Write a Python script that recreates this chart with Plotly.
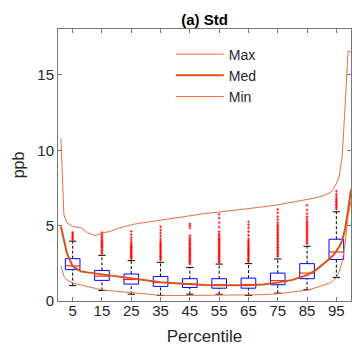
import plotly.graph_objects as go

# ---- Data ----
curve_x = [1, 2, 3, 5, 8, 10, 12, 13, 15, 18, 21, 26, 30, 35, 40, 45, 50, 55, 60, 65, 70, 75, 80,
           85, 88, 90, 92, 93, 94, 95, 96, 97, 98, 99, 100]
max_vals = [10.8, 5.75, 5.2, 4.95, 4.85, 4.55, 4.38, 4.35, 4.5, 4.63, 4.85, 5.1, 5.22, 5.37, 5.5,
            5.67, 5.8, 5.9, 6.0, 6.1, 6.25, 6.38, 6.55, 6.75, 6.85, 6.95, 7.1, 7.2, 7.45, 7.8,
            8.3, 9.6, 13.0, 16.6, 16.5]
med_vals = [4.95, 4.0, 3.2, 2.3, 1.95, 1.9, 1.85, 1.82, 1.78, 1.68, 1.6, 1.5, 1.38, 1.24, 1.18,
            1.1, 1.06, 1.04, 1.03, 1.04, 1.1, 1.22, 1.4, 1.72, 2.05, 2.35, 2.65, 2.85, 3.05, 3.3,
            3.6, 4.0, 4.8, 6.0, 7.4]
min_vals = [2.35, 1.65, 1.4, 1.2, 1.05, 0.95, 0.85, 0.8, 0.74, 0.68, 0.62, 0.52, 0.45, 0.38, 0.36,
            0.37, 0.37, 0.37, 0.37, 0.38, 0.42, 0.48, 0.58, 0.72, 0.88, 1.02, 1.15, 1.22, 1.35, 1.55,
            1.95, 2.6, 3.8, 5.6, 6.6]

percentiles = [5, 15, 25, 35, 45, 55, 65, 75, 85, 95]
q1 = [2.08, 1.37, 1.12, 0.97, 0.9, 0.85, 0.85, 1.08, 1.48, 2.75]
q3 = [2.81, 2.03, 1.79, 1.63, 1.48, 1.48, 1.52, 1.85, 2.48, 4.1]
medians = [2.33, 1.65, 1.42, 1.22, 1.12, 1.08, 1.1, 1.35, 1.85, 3.25]
lower_whisker = [1.02, 0.7, 0.45, 0.37, 0.45, 0.45, 0.37, 0.52, 0.75, 1.55]
upper_whisker = [3.97, 3.03, 2.68, 2.57, 2.23, 2.45, 2.48, 2.79, 3.63, 5.92]

outliers = {
    5: [4.05, 4.15, 4.25, 4.35, 4.45, 4.55],
    15: [3.15, 3.25, 3.35, 3.45, 3.55, 3.62, 3.7, 3.78, 3.85, 3.92, 4.0, 4.1, 4.2, 4.3, 4.42, 4.55],
    25: [2.8, 2.88, 2.95, 3.02, 3.1, 3.17, 3.25, 3.32, 3.4, 3.48, 3.55, 3.62, 3.7, 3.8, 3.9, 4.05,
         4.2, 4.4, 4.62],
    35: [2.72, 2.8, 2.88, 2.96, 3.04, 3.12, 3.2, 3.28, 3.36, 3.44, 3.52, 3.6, 3.68, 3.76, 3.85, 3.95,
         4.1, 4.3, 4.5, 4.7, 4.92],
    45: [2.45, 2.53, 2.61, 2.69, 2.77, 2.85, 2.93, 3.01, 3.09, 3.17, 3.25, 3.33, 3.41, 3.49, 3.57,
         3.65, 3.73, 3.81, 3.9, 4.0, 4.1, 4.2, 4.35, 4.85, 5.0, 5.12],
    55: [2.55, 2.63, 2.71, 2.79, 2.87, 2.95, 3.03, 3.11, 3.19, 3.27, 3.35, 3.43, 3.51, 3.59, 3.67,
         3.75, 3.83, 3.91, 3.99, 4.07, 4.15, 4.25, 4.35, 4.45, 4.6, 4.9, 5.2, 5.5, 5.75],
    65: [2.6, 2.68, 2.76, 2.84, 2.92, 3.0, 3.08, 3.16, 3.24, 3.32, 3.4, 3.48, 3.56, 3.64, 3.72, 3.8,
         3.9, 4.0, 4.12, 4.35, 4.6, 4.85, 5.05, 5.25],
    75: [2.95, 3.05, 3.15, 3.25, 3.35, 3.45, 3.55, 3.65, 3.75, 3.85, 3.95, 4.05, 4.15, 4.25, 4.35,
         4.45, 4.55, 4.65, 4.75, 4.85, 4.95, 5.05, 5.2, 5.4, 5.6, 5.85, 6.08],
    85: [3.8, 3.9, 4.0, 4.1, 4.2, 4.3, 4.4, 4.5, 4.6, 4.7, 4.8, 4.9, 5.0, 5.1, 5.2, 5.3, 5.45, 5.6,
         5.8, 6.05, 6.35],
    95: [6.1, 6.2, 6.3, 6.4, 6.5, 6.6, 6.7, 6.8, 6.95, 7.1, 7.3],
}

x_ticks = [5, 15, 25, 35, 45, 55, 65, 75, 85, 95]
y_ticks = [0, 5, 10, 15]

# ---- Style ----
BOX_HALF = 2.5
CAP_HALF = 1.25
FONT = "Liberation Sans, Arial, sans-serif"
TXT = "rgb(38,38,38)"
AX = "rgb(120,120,120)"
ORANGE = "rgb(217,83,25)"
THIN = "rgb(232,112,66)"

fig = go.Figure()

# whiskers (dashed)
wx, wy = [], []
for p, a, b, lo, hi in zip(percentiles, q1, q3, lower_whisker, upper_whisker):
    wx += [p, p, None, p, p, None]
    wy += [b, hi, None, lo, a, None]
fig.add_trace(go.Scatter(x=wx, y=wy, mode="lines", showlegend=False, hoverinfo="skip",
                         line=dict(color="black", width=1, dash="3px,2px")))

# caps
cx, cy = [], []
for p, lo, hi in zip(percentiles, lower_whisker, upper_whisker):
    cx += [p - CAP_HALF, p + CAP_HALF, None, p - CAP_HALF, p + CAP_HALF, None]
    cy += [hi, hi, None, lo, lo, None]
fig.add_trace(go.Scatter(x=cx, y=cy, mode="lines", showlegend=False, hoverinfo="skip",
                         line=dict(color="black", width=1)))

# boxes
bx, by = [], []
for p, a, b in zip(percentiles, q1, q3):
    bx += [p - BOX_HALF, p + BOX_HALF, p + BOX_HALF, p - BOX_HALF, p - BOX_HALF, None]
    by += [a, a, b, b, a, None]
fig.add_trace(go.Scatter(x=bx, y=by, mode="lines", showlegend=False, hoverinfo="skip",
                         line=dict(color="rgb(0,0,255)", width=1)))

# medians
mx, my = [], []
for p, m in zip(percentiles, medians):
    mx += [p - BOX_HALF, p + BOX_HALF, None]
    my += [m, m, None]
fig.add_trace(go.Scatter(x=mx, y=my, mode="lines", showlegend=False, hoverinfo="skip",
                         line=dict(color="rgb(255,0,0)", width=1)))

# outliers
ox, oy = [], []
for p in percentiles:
    ox += [p] * len(outliers[p])
    oy += outliers[p]
fig.add_trace(go.Scatter(x=ox, y=oy, mode="markers", showlegend=False, hoverinfo="skip",
                         marker=dict(symbol="cross-thin", size=2,
                                     line=dict(color="rgba(255,0,0,0.8)", width=1))))

# curves
fig.add_trace(go.Scatter(x=curve_x, y=max_vals, mode="lines", name="Max",
                         line=dict(color=THIN, width=1)))
fig.add_trace(go.Scatter(x=curve_x, y=med_vals, mode="lines", name="Med",
                         line=dict(color=ORANGE, width=2)))
fig.add_trace(go.Scatter(x=curve_x, y=min_vals, mode="lines", name="Min",
                         line=dict(color=THIN, width=1)))

axis_common = dict(showline=True, linecolor=AX, linewidth=1, mirror="ticks", ticks="inside",
                   ticklen=4, tickcolor=AX, showgrid=False, zeroline=False,
                   tickfont=dict(family=FONT, size=15, color=TXT))

fig.update_layout(
    width=352, height=353,
    margin=dict(l=58, r=1, t=29, b=52, pad=0),
    paper_bgcolor="white", plot_bgcolor="white",
    title=dict(text="<b>(a) Std</b>", x=0.5, xref="paper", xanchor="center", y=0.945,
               yanchor="middle", font=dict(family=FONT, size=15, color="black")),
    xaxis=dict(range=[0, 100], tickvals=x_ticks, ticklabelstandoff=-4,
               title=dict(text="Percentile", font=dict(family=FONT, size=17, color=TXT), standoff=12),
               **axis_common),
    yaxis=dict(range=[0, 18.05], tickvals=y_ticks,
               title=dict(text="ppb", font=dict(family=FONT, size=16, color=TXT), standoff=8),
               **axis_common),
    legend=dict(x=0.385, xanchor="left", y=0.965, yanchor="top", bgcolor="rgba(0,0,0,0)",
                borderwidth=0, font=dict(family=FONT, size=14, color=TXT),
                itemwidth=48, tracegroupgap=0),
    showlegend=True,
)

fig.write_html("out.html")
